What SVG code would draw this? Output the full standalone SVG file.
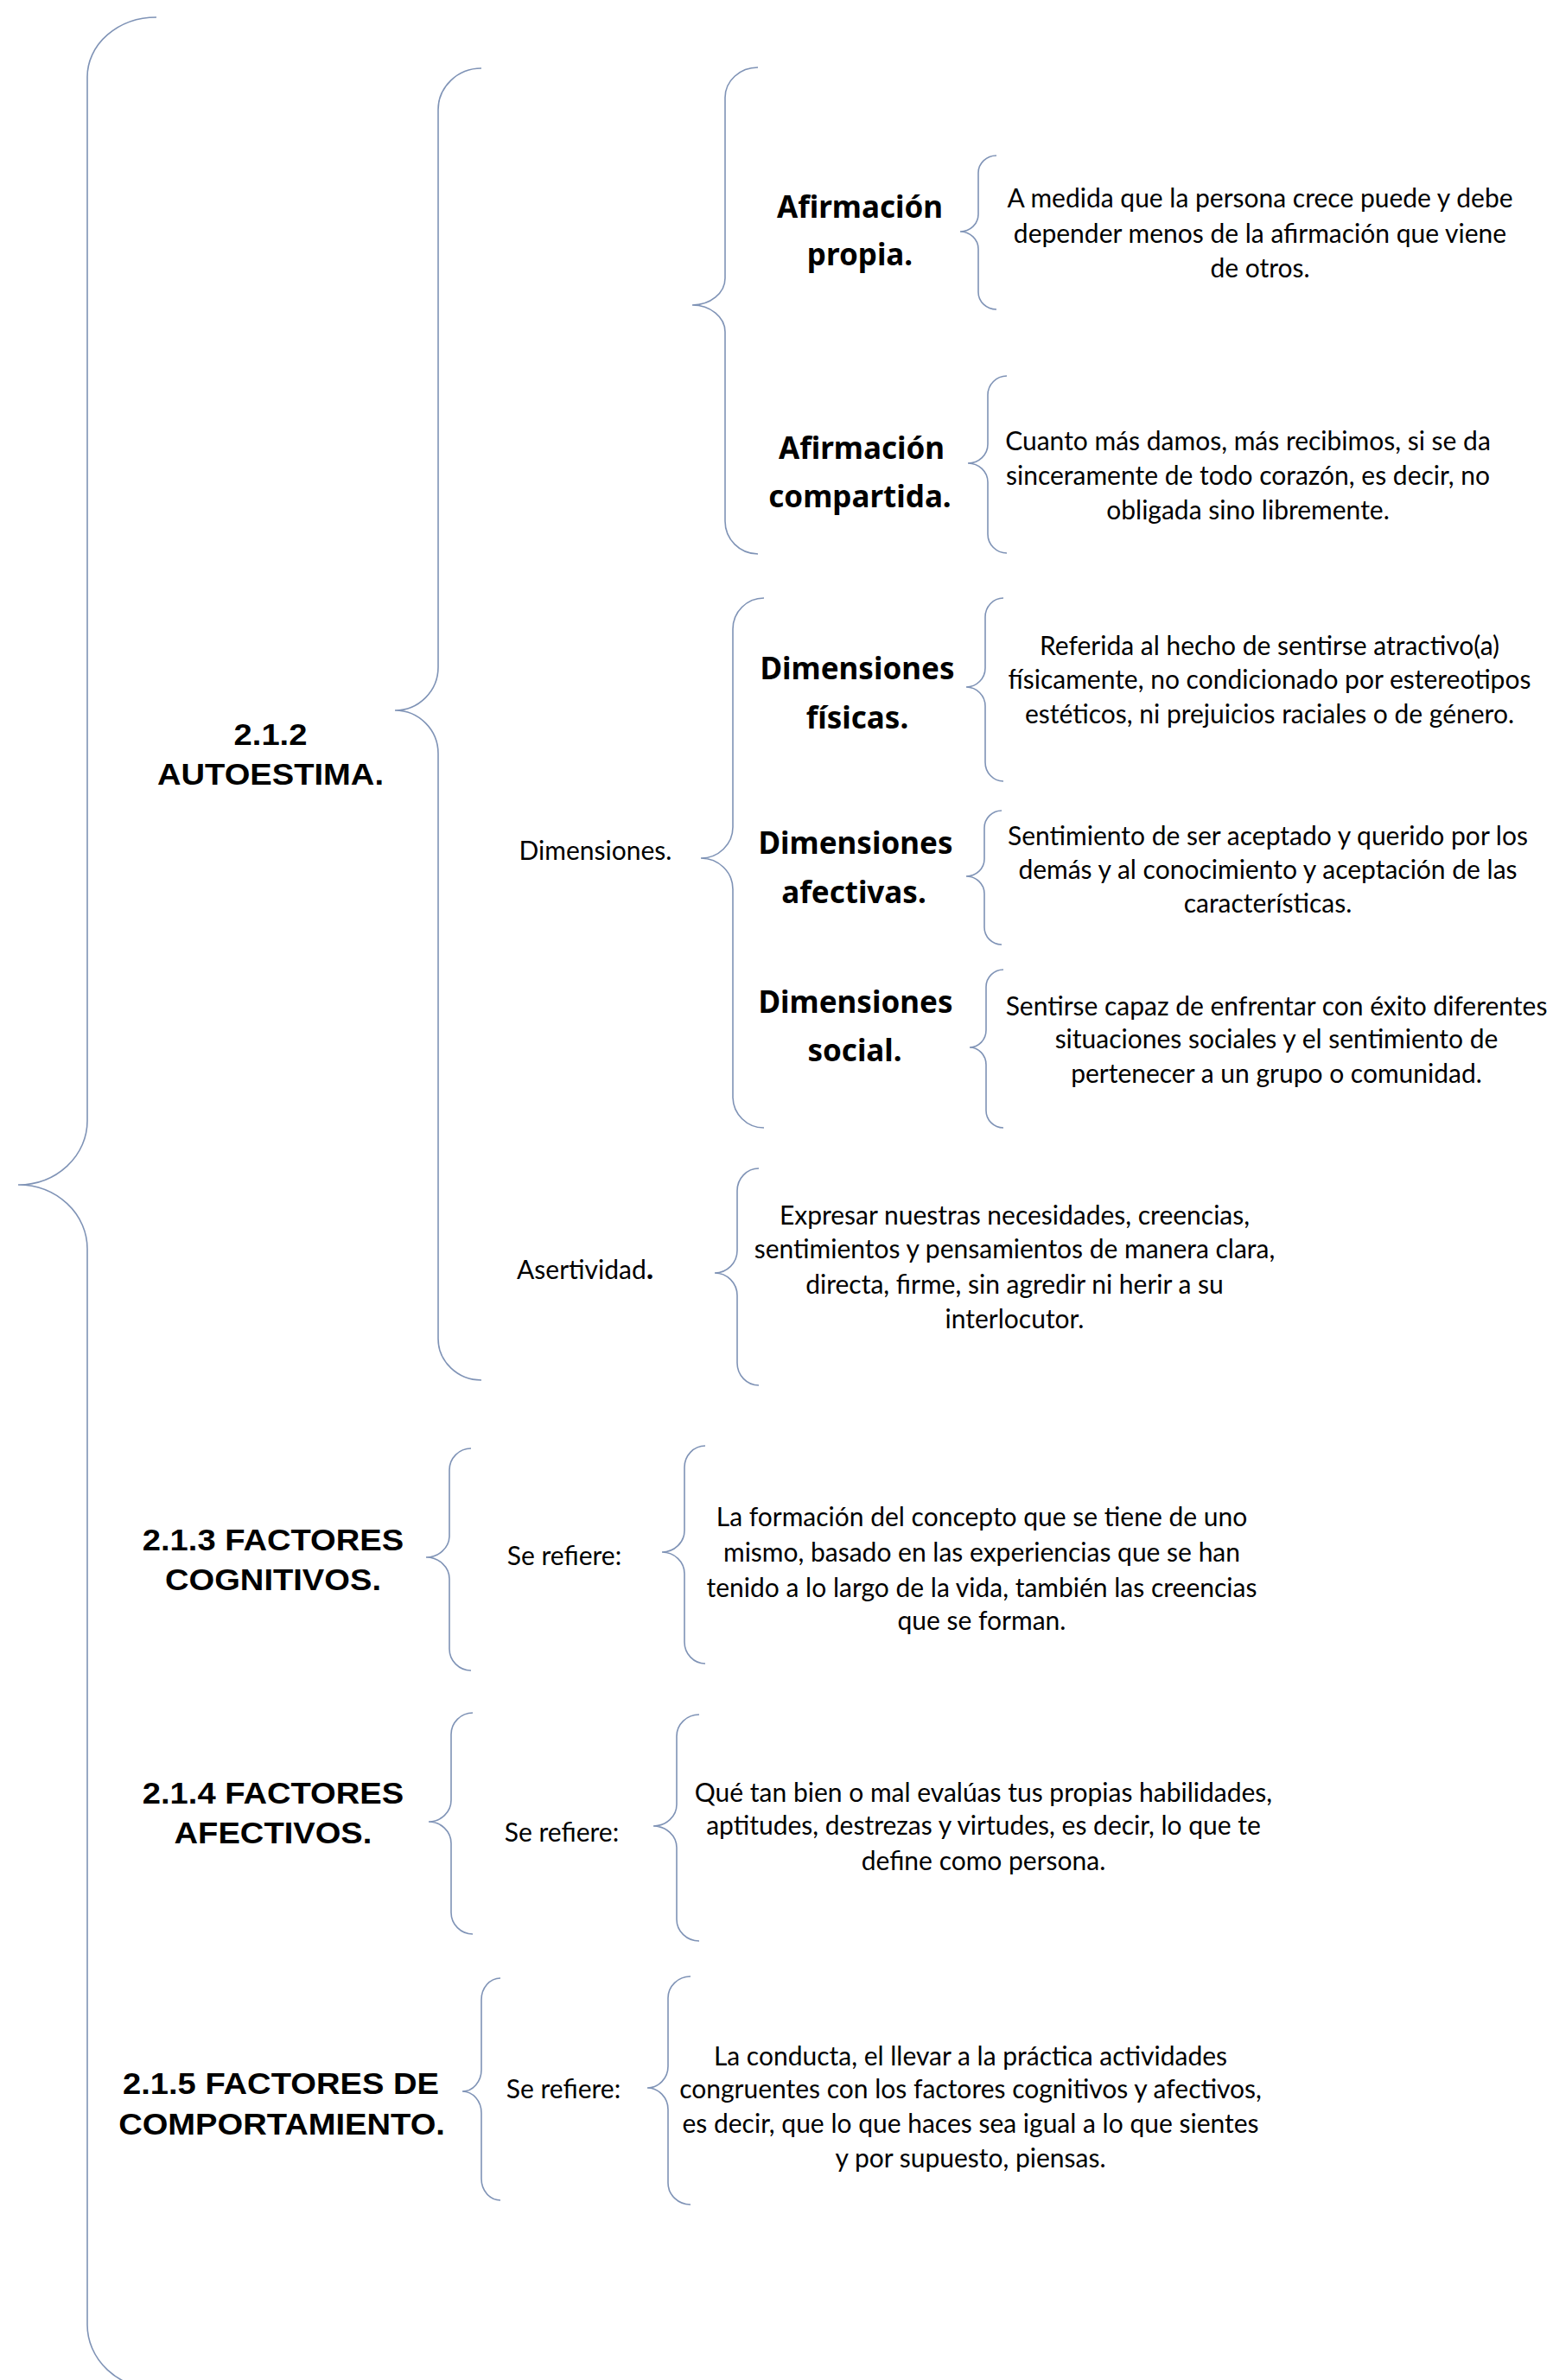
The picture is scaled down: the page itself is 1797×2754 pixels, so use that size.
<svg xmlns="http://www.w3.org/2000/svg" width="1797" height="2754" viewBox="0 0 1797 2754">
<style>
.br{fill:none;stroke:#7f93b6;stroke-width:1.6}
.t{font-family:"Liberation Sans",Arial,sans-serif;font-weight:bold;font-size:35px;fill:#000;text-anchor:middle}
.c{font-family:"Comic Sans MS","Noto Sans",sans-serif;font-weight:bold;font-size:35px;fill:#000;text-anchor:middle}
.g{font-family:Lato,"Gill Sans MT","Noto Sans",sans-serif;font-size:30px;fill:#000;text-anchor:middle}
.l{font-family:Lato,"Gill Sans MT","Noto Sans",sans-serif;font-size:30px;fill:#000}
</style>
<rect width="1797" height="2754" fill="#fff"/>
<g id="connectors">
<path class="br" d="M181,20 A80,69 0 0 0 101,89 V1297 A80,74 0 0 1 21,1371 A80,74 0 0 1 101,1445 V2690 A80,74 0 0 0 181,2764"/>
<path class="br" d="M557,79 A50,48 0 0 0 507,127 V772 A50,50 0 0 1 457,822 A50,50 0 0 1 507,872 V1549 A50,48 0 0 0 557,1597"/>
<path class="br" d="M877,78 A38,35 0 0 0 839,113 V322 A38,31 0 0 1 801,353 A38,31 0 0 1 839,384 V603 A38,38 0 0 0 877,641"/>
<path class="br" d="M1153,180 A21,20 0 0 0 1132,200 V248 A21,20 0 0 1 1111,268 A21,20 0 0 1 1132,288 V338 A21,20 0 0 0 1153,358"/>
<path class="br" d="M1165,435 A22,22 0 0 0 1143,457 V514 A23,22 0 0 1 1120,536 A23,22 0 0 1 1143,558 V618 A22,22 0 0 0 1165,640"/>
<path class="br" d="M884,692 A36,36 0 0 0 848,728 V957 A37,36 0 0 1 811,993 A37,36 0 0 1 848,1029 V1269 A36,36 0 0 0 884,1305"/>
<path class="br" d="M1161,692 A21,22 0 0 0 1140,714 V773 A22,22 0 0 1 1118,795 A22,22 0 0 1 1140,817 V882 A21,22 0 0 0 1161,904"/>
<path class="br" d="M1159,938 A20,20 0 0 0 1139,958 V994 A21,20 0 0 1 1118,1014 A21,20 0 0 1 1139,1034 V1073 A20,20 0 0 0 1159,1093"/>
<path class="br" d="M1161,1122 A20,20 0 0 0 1141,1142 V1192 A19,20 0 0 1 1122,1212 A19,20 0 0 1 1141,1232 V1285 A20,20 0 0 0 1161,1305"/>
<path class="br" d="M878,1352 A25,26 0 0 0 853,1378 V1447 A26,26 0 0 1 827,1473 A26,26 0 0 1 853,1499 V1577 A25,26 0 0 0 878,1603"/>
<path class="br" d="M545,1676 A25,25 0 0 0 520,1701 V1777 A27,25 0 0 1 493,1802 A27,25 0 0 1 520,1827 V1908 A25,25 0 0 0 545,1933"/>
<path class="br" d="M816,1673 A24,25 0 0 0 792,1698 V1771 A26,25 0 0 1 766,1796 A26,25 0 0 1 792,1821 V1900 A24,25 0 0 0 816,1925"/>
<path class="br" d="M547,1982 A25,25 0 0 0 522,2007 V2083 A26,25 0 0 1 496,2108 A26,25 0 0 1 522,2133 V2213 A25,25 0 0 0 547,2238"/>
<path class="br" d="M809,1984 A26,25 0 0 0 783,2009 V2088 A27,25 0 0 1 756,2113 A27,25 0 0 1 783,2138 V2221 A26,25 0 0 0 809,2246"/>
<path class="br" d="M579,2289 A22,25 0 0 0 557,2314 V2395 A22,25 0 0 1 535,2420 A22,25 0 0 1 557,2445 V2521 A22,25 0 0 0 579,2546"/>
<path class="br" d="M799,2287 A26,25 0 0 0 773,2312 V2391 A24,25 0 0 1 749,2416 A24,25 0 0 1 773,2441 V2526 A26,25 0 0 0 799,2551"/>
</g>
<g id="autoestima" transform="matrix(1.09,0,0,1,-28.17,0)"><text class="t" x="313" y="862">2.1.2</text><text class="t" x="313" y="908">AUTOESTIMA.</text></g>
<g id="afirmacion-propia"><text class="c" x="995" y="252">Afirmación</text><text class="c" x="995" y="307">propia.</text></g>
<g id="afirmacion-propia-desc"><text class="g" x="1458" y="240">A medida que la persona crece puede y debe</text><text class="g" x="1458" y="281">depender menos de la afirmación que viene</text><text class="g" x="1458" y="321">de otros.</text></g>
<g id="afirmacion-compartida"><text class="c" x="997" y="531">Afirmación</text><text class="c" x="995" y="587">compartida.</text></g>
<g id="afirmacion-compartida-desc"><text class="g" x="1444" y="521">Cuanto más damos, más recibimos, si se da</text><text class="g" x="1444" y="561">sinceramente de todo corazón, es decir, no</text><text class="g" x="1444" y="601">obligada sino libremente.</text></g>
<g id="dimensiones"><text class="l" x="689" y="995" text-anchor="middle">Dimensiones.</text></g>
<g id="dim-fisicas"><text class="c" x="992" y="786">Dimensiones</text><text class="c" x="992" y="843">físicas.</text></g>
<g id="dim-fisicas-desc"><text class="g" x="1469" y="758">Referida al hecho de sentirse atractivo(a)</text><text class="g" x="1469" y="797">físicamente, no condicionado por estereotipos</text><text class="g" x="1469" y="837">estéticos, ni prejuicios raciales o de género.</text></g>
<g id="dim-afectivas"><text class="c" x="990" y="988">Dimensiones</text><text class="c" x="988" y="1045">afectivas.</text></g>
<g id="dim-afectivas-desc"><text class="g" x="1467" y="978">Sentimiento de ser aceptado y querido por los</text><text class="g" x="1467" y="1017">demás y al conocimiento y aceptación de las</text><text class="g" x="1467" y="1056">características.</text></g>
<g id="dim-social"><text class="c" x="990" y="1172">Dimensiones</text><text class="c" x="989" y="1228">social.</text></g>
<g id="dim-social-desc"><text class="g" x="1477" y="1175">Sentirse capaz de enfrentar con éxito diferentes</text><text class="g" x="1477" y="1213">situaciones sociales y el sentimiento de</text><text class="g" x="1477" y="1253">pertenecer a un grupo o comunidad.</text></g>
<g id="asertividad"><text class="l" x="598" y="1480">Asertividad<tspan font-weight="bold" font-size="36">.</tspan></text></g>
<g id="asertividad-desc"><text class="g" x="1174" y="1417">Expresar nuestras necesidades, creencias,</text><text class="g" x="1174" y="1456">sentimientos y pensamientos de manera clara,</text><text class="g" x="1174" y="1497">directa, firme, sin agredir ni herir a su</text><text class="g" x="1174" y="1537">interlocutor.</text></g>
<g id="cognitivos" transform="matrix(1.09,0,0,1,-28.44,0)"><text class="t" x="316" y="1794">2.1.3 FACTORES</text><text class="t" x="316" y="1840">COGNITIVOS.</text></g>
<g id="cognitivos-ref"><text class="l" x="653" y="1811" text-anchor="middle">Se refiere:</text></g>
<g id="cognitivos-desc"><text class="g" x="1136" y="1766">La formación del concepto que se tiene de uno</text><text class="g" x="1136" y="1807">mismo, basado en las experiencias que se han</text><text class="g" x="1136" y="1848">tenido a lo largo de la vida, también las creencias</text><text class="g" x="1136" y="1886">que se forman.</text></g>
<g id="afectivos" transform="matrix(1.09,0,0,1,-28.44,0)"><text class="t" x="316" y="2087">2.1.4 FACTORES</text><text class="t" x="316" y="2133">AFECTIVOS.</text></g>
<g id="afectivos-ref"><text class="l" x="650" y="2131" text-anchor="middle">Se refiere:</text></g>
<g id="afectivos-desc"><text class="g" x="1138" y="2085">Qué tan bien o mal evalúas tus propias habilidades,</text><text class="g" x="1138" y="2123">aptitudes, destrezas y virtudes, es decir, lo que te</text><text class="g" x="1138" y="2164">define como persona.</text></g>
<g id="comportamiento" transform="matrix(1.09,0,0,1,-29.3,0)"><text class="t" x="325" y="2423">2.1.5 FACTORES DE</text><text class="t" x="326" y="2470">COMPORTAMIENTO.</text></g>
<g id="comportamiento-ref"><text class="l" x="652" y="2428" text-anchor="middle">Se refiere:</text></g>
<g id="comportamiento-desc"><text class="g" x="1123" y="2390">La conducta, el llevar a la práctica actividades</text><text class="g" x="1123" y="2428">congruentes con los factores cognitivos y afectivos,</text><text class="g" x="1123" y="2468">es decir, que lo que haces sea igual a lo que sientes</text><text class="g" x="1123" y="2508">y por supuesto, piensas.</text></g>
</svg>
